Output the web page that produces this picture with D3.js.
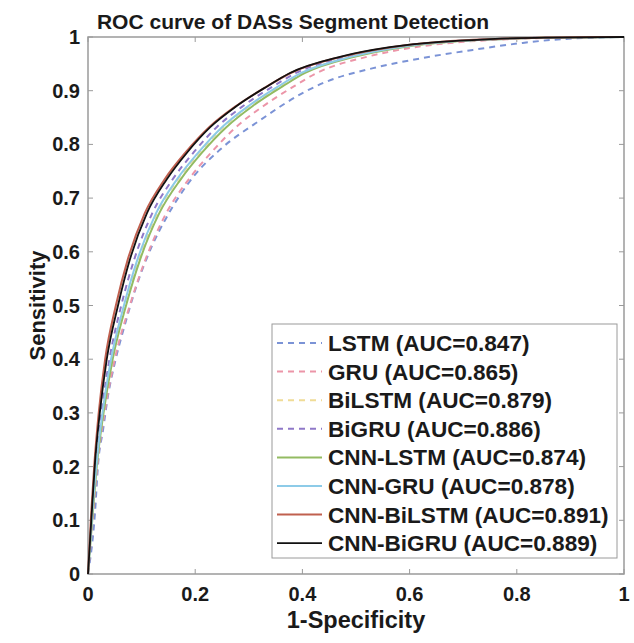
<!DOCTYPE html>
<html>
<head>
<meta charset="utf-8">
<script src="https://d3js.org/d3.v7.min.js"></script>
<style>
  body { margin: 0; background: #fff; }
  text { font-family: "Liberation Sans", Arial, sans-serif; font-weight: bold; fill: #1a1a1a; }
</style>
</head>
<body>
<div id="vis"></div>
<script>
// series names and AUC shown in legend
var names = ["LSTM", "GRU", "BiLSTM", "BiGRU", "CNN-LSTM", "CNN-GRU", "CNN-BiLSTM", "CNN-BiGRU"];
var aucs = ["0.847", "0.865", "0.879", "0.886", "0.874", "0.878", "0.891", "0.889"];

// FPR / TPR points
var lstmX = [0, 0.013, 0.019, 0.028, 0.037, 0.05, 0.069, 0.09, 0.119, 0.147, 0.196, 0.246, 0.321, 0.401, 0.438, 0.532, 0.625, 0.718, 0.811, 0.87, 0.95, 1];
var lstmY = [0, 0.114, 0.207, 0.268, 0.33, 0.393, 0.465, 0.535, 0.61, 0.665, 0.739, 0.79, 0.845, 0.896, 0.914, 0.942, 0.961, 0.976, 0.989, 0.995, 0.999, 1];

// the other curves are read at the same sensitivity levels
var tpr = [0, 0.114, 0.207, 0.3, 0.4, 0.5, 0.585, 0.672, 0.735, 0.785, 0.832, 0.872, 0.908, 0.933, 0.963, 0.981, 0.991, 0.996, 0.999, 1];
var gruX       = [0, 0.01, 0.018, 0.031, 0.05, 0.078, 0.107, 0.146, 0.188, 0.23, 0.276, 0.328, 0.384, 0.427, 0.52, 0.61, 0.7, 0.79, 0.88, 1];
var bilstmX    = [0, 0.008, 0.016, 0.027, 0.044, 0.068, 0.094, 0.129, 0.168, 0.208, 0.252, 0.302, 0.357, 0.4, 0.492, 0.582, 0.674, 0.767, 0.866, 1];
var bigruX     = [0, 0.008, 0.015, 0.025, 0.04, 0.062, 0.086, 0.12, 0.158, 0.197, 0.24, 0.29, 0.345, 0.388, 0.48, 0.57, 0.665, 0.76, 0.86, 1];
var cnnlstmX   = [0, 0.009, 0.017, 0.029, 0.046, 0.071, 0.097, 0.133, 0.173, 0.213, 0.258, 0.308, 0.363, 0.405, 0.497, 0.587, 0.678, 0.77, 0.868, 1];
var cnngruX    = [0, 0.008, 0.016, 0.027, 0.043, 0.067, 0.092, 0.127, 0.166, 0.206, 0.25, 0.3, 0.355, 0.398, 0.49, 0.58, 0.672, 0.765, 0.865, 1];
var cnnbilstmX = [0, 0.006, 0.012, 0.02, 0.032, 0.052, 0.074, 0.106, 0.143, 0.182, 0.226, 0.277, 0.334, 0.378, 0.472, 0.566, 0.66, 0.755, 0.855, 1];
var cnnbigruX  = [0, 0.007, 0.013, 0.022, 0.035, 0.056, 0.078, 0.11, 0.147, 0.185, 0.228, 0.278, 0.334, 0.377, 0.47, 0.563, 0.657, 0.75, 0.85, 1];

var ticks = [0, 0.1, 0.2, 0.3, 0.4, 0.5, 0.6, 0.7, 0.8, 0.9, 1];
var xTicks = [0, 0.2, 0.4, 0.6, 0.8, 1];

var xs = [lstmX, gruX, bilstmX, bigruX, cnnlstmX, cnngruX, cnnbilstmX, cnnbigruX];
var ys = [lstmY, tpr, tpr, tpr, tpr, tpr, tpr, tpr];
var colors = ["#7b93d6", "#ec95a8", "#f0dc96", "#8f78c8", "#93bb62", "#8dcbe8", "#c0604f", "#111111"];
var dashed = [true, true, true, true, false, false, false, false];

var W = 634, H = 643;
var margin = {top: 37, right: 10, bottom: 69, left: 88};

var svg = d3.select("#vis").append("svg").attr("width", W).attr("height", H);

var x = d3.scaleLinear().domain([0, 1]).range([margin.left, W - margin.right]);
var y = d3.scaleLinear().domain([0, 1]).range([H - margin.bottom, margin.top]);

// box
svg.append("rect")
  .attr("x", x(0)).attr("y", y(1))
  .attr("width", x(1) - x(0)).attr("height", y(0) - y(1))
  .attr("fill", "none").attr("stroke", "#9a9a9a").attr("stroke-width", 1.5);

// inward ticks on all sides
var tk = 5;
var g = svg.append("g").attr("stroke", "#9a9a9a").attr("stroke-width", 1);
xTicks.forEach(function(t) {
  g.append("line").attr("x1", x(t)).attr("x2", x(t)).attr("y1", y(0)).attr("y2", y(0) - tk);
  g.append("line").attr("x1", x(t)).attr("x2", x(t)).attr("y1", y(1)).attr("y2", y(1) + tk);
});
ticks.forEach(function(t) {
  g.append("line").attr("x1", x(0)).attr("x2", x(0) + tk).attr("y1", y(t)).attr("y2", y(t));
  g.append("line").attr("x1", x(1)).attr("x2", x(1) - tk).attr("y1", y(t)).attr("y2", y(t));
});

// tick labels
svg.selectAll(".xt").data(xTicks).enter().append("text")
  .attr("x", function(d) { return x(d); })
  .attr("y", y(0) + 27)
  .attr("text-anchor", "middle")
  .style("font-size", "20px")
  .text(function(d) { return d3.format("~g")(d); });

svg.selectAll(".yt").data(ticks).enter().append("text")
  .attr("x", x(0) - 8)
  .attr("y", function(d) { return y(d) + 7; })
  .attr("text-anchor", "end")
  .style("font-size", "20px")
  .text(function(d) { return d3.format("~g")(d); });

// curves
var line = d3.line()
  .x(function(d) { return x(d[0]); })
  .y(function(d) { return y(d[1]); })
  .curve(d3.curveMonotoneX);

names.forEach(function(n, i) {
  var pts = d3.zip(xs[i], ys[i]);
  svg.append("path")
    .attr("d", line(pts))
    .attr("fill", "none")
    .attr("stroke", colors[i])
    .attr("stroke-width", i == 7 ? 1.8 : 2)
    .attr("stroke-dasharray", dashed[i] ? "6,5" : null);
});

// legend
var lg = svg.append("g");
lg.append("rect")
  .attr("x", 272).attr("y", 324).attr("width", 345).attr("height", 234)
  .attr("fill", "#fff").attr("stroke", "#9a9a9a").attr("stroke-width", 1);

names.forEach(function(n, i) {
  var ly = 343 + i * 28.6;
  lg.append("line")
    .attr("x1", 277).attr("x2", 322).attr("y1", ly).attr("y2", ly)
    .attr("stroke", colors[i])
    .attr("stroke-width", i == 7 ? 1.8 : 2)
    .attr("stroke-dasharray", dashed[i] ? "6,5" : null);
  lg.append("text")
    .attr("x", 328).attr("y", ly + 8)
    .style("font-size", "22.6px")
    .text(n + " (AUC=" + aucs[i] + ")");
});

// title and axis labels
svg.append("text")
  .attr("x", 293).attr("y", 29)
  .attr("text-anchor", "middle")
  .style("font-size", "21px")
  .text("ROC curve of DASs Segment Detection");

svg.append("text")
  .attr("x", (x(0) + x(1)) / 2).attr("y", 628)
  .attr("text-anchor", "middle")
  .style("font-size", "23.5px")
  .text("1-Specificity");

svg.append("text")
  .attr("transform", "translate(45," + ((y(0) + y(1)) / 2) + ") rotate(-90)")
  .attr("text-anchor", "middle")
  .style("font-size", "22px")
  .text("Sensitivity");
</script>
</body>
</html>
